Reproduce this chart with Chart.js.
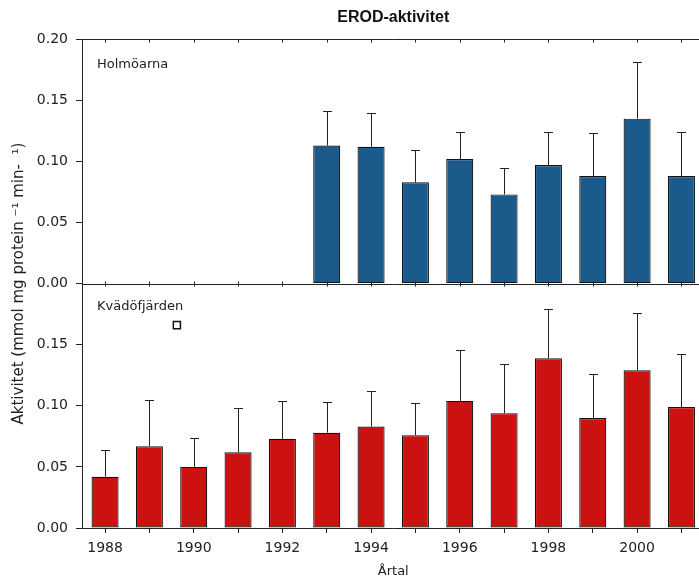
<!DOCTYPE html>
<html>
<head>
<meta charset="utf-8">
<script src="https://cdn.jsdelivr.net/npm/chart.js@4"></script>
<style>
  html, body { margin: 0; padding: 0; background: #fff; overflow: hidden; }
  canvas { display: block; }
</style>
</head>
<body>
<canvas id="erodChart" width="711" height="578"></canvas>
<script>
// years on the shared x axis
const years = [1988, 1989, 1990, 1991, 1992, 1993, 1994, 1995, 1996, 1997, 1998, 1999, 2000, 2001];

// Holmöarna (top panel)
const holmYears = [1993, 1994, 1995, 1996, 1997, 1998, 1999, 2000, 2001];
const holmMean = [0.113, 0.112, 0.083, 0.102, 0.073, 0.097, 0.088, 0.135, 0.088];
const holmErr = [0.028, 0.028, 0.026, 0.022, 0.022, 0.027, 0.035, 0.046, 0.036];

// Kvädöfjärden (bottom panel)
const kvadYears = years;
const kvadMean = [0.042, 0.067, 0.050, 0.062, 0.073, 0.078, 0.083, 0.076, 0.104, 0.094, 0.139, 0.090, 0.129, 0.099];
const kvadErr = [0.022, 0.038, 0.024, 0.036, 0.031, 0.025, 0.029, 0.026, 0.042, 0.040, 0.040, 0.036, 0.047, 0.043];

// stray open square in the lower panel
const markerX = [1989.62];
const markerY = [0.166];

const yTicks = [0, 0.05, 0.10, 0.15, 0.20];

Chart.defaults.font.family = 'DejaVu Sans';
Chart.defaults.color = '#222';

// upper error bars with caps
const errorBars = {
    id: 'errorBars',
    afterDatasetsDraw(chart) {
        const ctx = chart.ctx;
        ctx.save();
        ctx.strokeStyle = '#222';
        ctx.lineWidth = 1;
        chart.data.datasets.forEach((ds, i) => {
            if (!ds.errors) return;
            const meta = chart.getDatasetMeta(i);
            const yScale = chart.scales[ds.yAxisID];
            meta.data.forEach((bar, j) => {
                const top = Math.round(yScale.getPixelForValue(ds.data[j].y + ds.errors[j])) + 0.5;
                const x = Math.round(bar.x) + 0.5;
                ctx.beginPath();
                ctx.moveTo(x, bar.y);
                ctx.lineTo(x, top);
                ctx.moveTo(x - 4.5, top);
                ctx.lineTo(x + 4.5, top);
                ctx.stroke();
            });
        });
        ctx.restore();
    }
};

// frame line on top, divider between panels, small ticks on both
const panelFrame = {
    id: 'panelFrame',
    beforeDatasetsDraw(chart) {
        const {ctx, chartArea, scales} = chart;
        const yTop = Math.round(scales.yT.getPixelForValue(0.2)) + 0.5;
        const yMid = Math.round(scales.yT.getPixelForValue(0)) + 0.5;
        ctx.save();
        ctx.strokeStyle = '#222';
        ctx.lineWidth = 1;
        ctx.beginPath();
        ctx.moveTo(chartArea.left, yTop);
        ctx.lineTo(chartArea.right, yTop);
        ctx.moveTo(chartArea.left, yMid);
        ctx.lineTo(chartArea.right, yMid);
        years.forEach(yr => {
            const x = Math.round(scales.x.getPixelForValue(yr)) + 0.5;
            ctx.moveTo(x, yTop);
            ctx.lineTo(x, yTop + 3);
            ctx.moveTo(x, yMid - 3);
            ctx.lineTo(x, yMid + 2);
        });
        ctx.stroke();
        ctx.restore();
    },
    afterDraw(chart) {
        const {ctx, chartArea, scales} = chart;
        ctx.save();
        ctx.fillStyle = '#222';
        ctx.font = '13px "DejaVu Sans"';
        ctx.textBaseline = 'middle';
        ctx.fillText('Holmöarna', chartArea.left + 15, scales.yT.top + 25);
        ctx.fillText('Kvädöfjärden', chartArea.left + 15, scales.yB.top + 23);
        ctx.font = '15px "DejaVu Sans"';
        ctx.textAlign = 'center';
        ctx.translate(19, (chartArea.top + chartArea.bottom) / 2);
        ctx.rotate(-Math.PI / 2);
        ctx.fillText('Aktivitet (mmol mg protein \u207B\u00B9 min-  \u00B9)', 0, 0);
        ctx.restore();
    }
};

const yAxis = (extra) => Object.assign({
    type: 'linear',
    position: 'left',
    stack: 'panels',
    stackWeight: 1,
    min: 0,
    max: 0.2,
    afterBuildTicks: s => { s.ticks = yTicks.map(v => ({value: v})); },
    afterFit: s => { s.width = 82; },
    grid: { drawOnChartArea: false, drawTicks: true, tickLength: 6, color: '#222' },
    border: { color: '#222' }
}, extra);

const barStyle = {
    borderColor: '#111',
    borderWidth: 1.2,
    borderSkipped: false,
    grouped: false,
    categoryPercentage: 1,
    barPercentage: 0.61
};

new Chart(document.getElementById('erodChart'), {
    type: 'bar',
    data: {
        datasets: [
            Object.assign({
                label: 'Kvädöfjärden',
                data: kvadYears.map((x, i) => ({x, y: kvadMean[i]})),
                errors: kvadErr,
                yAxisID: 'yB',
                backgroundColor: '#cc1210'
            }, barStyle),
            Object.assign({
                label: 'Holmöarna',
                data: holmYears.map((x, i) => ({x, y: holmMean[i]})),
                errors: holmErr,
                yAxisID: 'yT',
                backgroundColor: '#1b5b8c'
            }, barStyle),
            {
                type: 'scatter',
                label: 'marker',
                data: markerX.map((x, i) => ({x, y: markerY[i]})),
                yAxisID: 'yB',
                pointStyle: 'rect',
                pointRadius: 5,
                backgroundColor: '#fff',
                borderColor: '#111',
                borderWidth: 1.5
            }
        ]
    },
    options: {
        responsive: false,
        animation: false,
        layout: { padding: 0 },
        plugins: {
            legend: { display: false },
            tooltip: { enabled: false },
            title: {
                display: true,
                text: 'EROD-aktivitet',
                fullSize: false,
                color: '#111',
                font: { family: 'Liberation Sans', size: 16, weight: 'bold' },
                padding: { top: 8, bottom: 12 }
            }
        },
        scales: {
            x: {
                type: 'linear',
                min: 1987.48,
                max: 2001.52,
                offset: false,
                afterBuildTicks: s => { s.ticks = years.map(v => ({value: v})); },
                afterFit: s => { s.height = 50; },
                ticks: {
                    autoSkip: false,
                    maxRotation: 0,
                    padding: 7,
                    font: { size: 14 },
                    callback: v => (v % 2 === 0 ? String(v) : '')
                },
                grid: { drawOnChartArea: false, drawTicks: true, tickLength: 5, color: '#222', offset: false },
                border: { color: '#222' },
                title: { display: true, text: 'Årtal', font: { size: 13, lineHeight: 1 }, padding: { top: 0, bottom: 0 } }
            },
            yB: yAxis({
                ticks: { padding: 8, font: { size: 14 }, callback: v => (v >= 0.199 ? '' : v.toFixed(2)) }
            }),
            yT: yAxis({
                ticks: { padding: 8, font: { size: 14 }, callback: v => v.toFixed(2) }
            })
        }
    },
    plugins: [errorBars, panelFrame]
});
</script>
</body>
</html>
